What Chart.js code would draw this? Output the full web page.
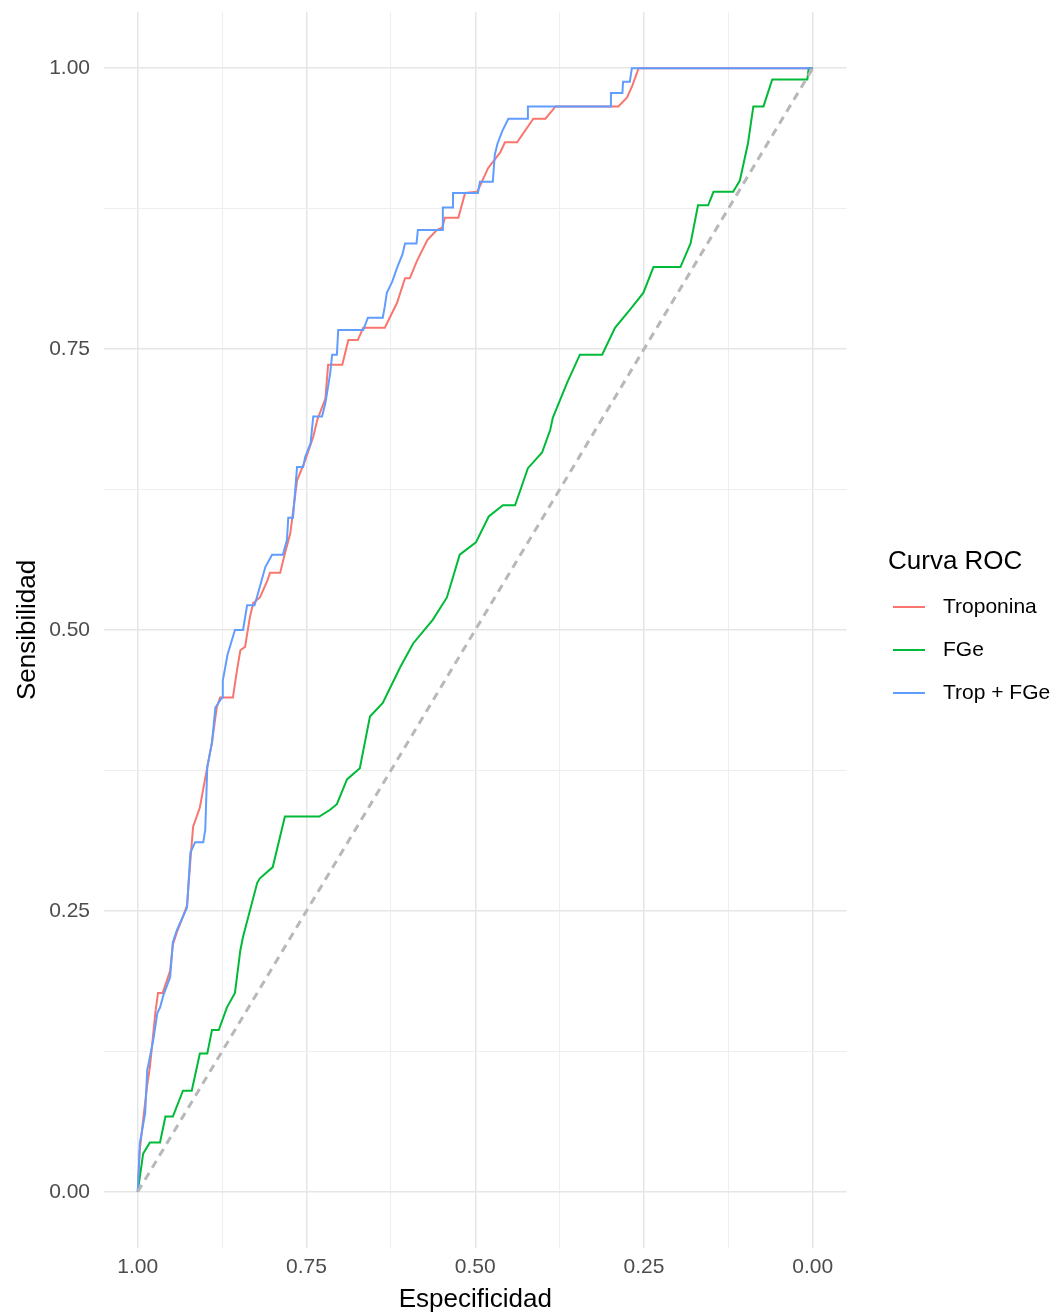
<!DOCTYPE html>
<html>
<head>
<meta charset="utf-8">
<title>Curva ROC</title>
<script src="https://cdn.jsdelivr.net/npm/chart.js@4.4.1/dist/chart.umd.min.js"></script>
<style>
  html, body { margin: 0; padding: 0; background: #ffffff; }
  #rocChart { display: block; }
</style>
</head>
<body>
<canvas id="rocChart" width="1059" height="1316"></canvas>
<script>
// ROC curves: specificity (x, reversed) vs sensitivity (y)
var tropSpec = [1,0.997,0.992,0.986,0.982,0.974,0.970,0.963,0.958,0.952,0.948,0.942,0.933,0.927,0.922,0.918,0.912,0.908,0.897,0.890,0.883,0.878,0.859,0.853,0.848,0.841,0.834,0.829,0.819,0.808,0.804,0.789,0.782,0.774,0.764,0.752,0.740,0.734,0.722,0.718,0.697,0.688,0.674,0.666,0.634,0.616,0.604,0.597,0.586,0.571,0.557,0.549,0.545,0.525,0.515,0.497,0.481,0.463,0.456,0.438,0.414,0.396,0.381,0.288,0.275,0.267,0.258,0];
var tropSens = [0,0.037,0.064,0.095,0.111,0.159,0.177,0.177,0.186,0.197,0.220,0.231,0.245,0.255,0.295,0.325,0.335,0.342,0.378,0.400,0.431,0.440,0.440,0.464,0.482,0.485,0.511,0.524,0.529,0.544,0.551,0.551,0.568,0.586,0.633,0.651,0.672,0.687,0.706,0.736,0.736,0.758,0.758,0.769,0.769,0.791,0.813,0.813,0.829,0.847,0.856,0.858,0.867,0.867,0.889,0.890,0.911,0.925,0.934,0.934,0.955,0.955,0.966,0.966,0.974,0.985,1,1];

var fgeSpec = [1,0.992,0.982,0.967,0.959,0.948,0.933,0.920,0.908,0.897,0.890,0.880,0.868,0.856,0.848,0.844,0.823,0.819,0.800,0.782,0.731,0.715,0.705,0.690,0.671,0.656,0.637,0.611,0.592,0.563,0.542,0.523,0.499,0.480,0.459,0.441,0.422,0.401,0.389,0.385,0.364,0.345,0.312,0.293,0.271,0.251,0.236,0.196,0.181,0.170,0.155,0.147,0.118,0.108,0.096,0.088,0.073,0.060,0.008,0.006,0];
var fgeSens = [0,0.034,0.044,0.044,0.067,0.067,0.090,0.090,0.123,0.123,0.144,0.144,0.164,0.177,0.215,0.227,0.275,0.279,0.289,0.334,0.334,0.340,0.345,0.367,0.377,0.423,0.435,0.467,0.488,0.509,0.529,0.567,0.578,0.601,0.611,0.611,0.644,0.658,0.678,0.689,0.720,0.745,0.745,0.769,0.785,0.800,0.823,0.823,0.844,0.878,0.878,0.890,0.890,0.900,0.933,0.966,0.966,0.990,0.990,1,1];

var combSpec = [1,0.997,0.989,0.986,0.977,0.971,0.967,0.962,0.952,0.948,0.942,0.933,0.927,0.922,0.915,0.903,0.900,0.897,0.890,0.885,0.875,0.874,0.867,0.856,0.844,0.838,0.827,0.824,0.811,0.801,0.785,0.779,0.777,0.770,0.764,0.755,0.752,0.744,0.740,0.727,0.722,0.715,0.712,0.705,0.703,0.666,0.659,0.637,0.634,0.631,0.623,0.616,0.608,0.604,0.587,0.585,0.549,0.548,0.534,0.533,0.496,0.493,0.474,0.471,0.467,0.460,0.451,0.423,0.422,0.300,0.299,0.282,0.281,0.271,0.268,0];
var combSens = [0,0.043,0.070,0.108,0.135,0.159,0.164,0.175,0.191,0.222,0.233,0.245,0.253,0.302,0.311,0.311,0.322,0.378,0.400,0.431,0.440,0.455,0.478,0.500,0.500,0.522,0.522,0.528,0.556,0.567,0.567,0.580,0.600,0.600,0.645,0.645,0.654,0.666,0.690,0.690,0.702,0.728,0.745,0.745,0.767,0.767,0.778,0.778,0.788,0.800,0.810,0.822,0.834,0.844,0.844,0.856,0.856,0.876,0.876,0.889,0.889,0.899,0.899,0.923,0.933,0.944,0.955,0.955,0.966,0.966,0.978,0.978,0.988,0.988,1,1];

var diagSpec = [1, 0];
var diagSens = [0, 1];

var majorTicks = [0, 0.25, 0.5, 0.75, 1];
var minorTicks = [0.125, 0.375, 0.625, 0.875];
var tickLabels = ["0.00", "0.25", "0.50", "0.75", "1.00"];

var seriesNames = ["Troponina", "FGe", "Trop + FGe"];
var seriesColors = ["#F8766D", "#00BA38", "#619CFF"];
var legendTitle = "Curva ROC";
var xTitle = "Especificidad";
var yTitle = "Sensibilidad";

var fontFamily = "'Liberation Sans', Arial, Helvetica, sans-serif";

function toPoints(xs, ys){
  var pts = [];
  for(var i = 0; i < xs.length; i++){
    pts.push({ x: xs[i], y: ys[i] });
  }
  return pts;
}

function buildTicks(scale){
  var all = majorTicks.concat(minorTicks).sort(function(a, b){ return a - b; });
  scale.ticks = all.map(function(v){ return { value: v }; });
}

function tickLabel(value){
  var i = majorTicks.indexOf(value);
  return i > -1 ? tickLabels[i] : "";
}

function isMajor(ctx){
  return ctx.tick && majorTicks.indexOf(ctx.tick.value) > -1;
}

var gridOpts = {
  color: function(ctx){ return isMajor(ctx) ? "#e6e6e6" : "#eeeeee"; },
  lineWidth: function(ctx){ return isMajor(ctx) ? 1.5 : 1; },
  drawTicks: false
};

// legend drawn beside the panel, ggplot style
var rocLegend = {
  id: "rocLegend",
  afterDraw: function(chart, args, opts){
    var ctx = chart.ctx;
    var area = chart.chartArea;
    var midY = (area.top + area.bottom) / 2;
    var x0 = area.right + opts.offsetX;
    ctx.save();
    ctx.fillStyle = "#000000";
    ctx.textAlign = "left";
    ctx.textBaseline = "middle";
    ctx.font = opts.titleSize + "px " + fontFamily;
    ctx.fillText(legendTitle, x0, midY + opts.titleY);
    ctx.font = opts.labelSize + "px " + fontFamily;
    var row = 0;
    chart.data.datasets.forEach(function(ds){
      if(seriesNames.indexOf(ds.label) == -1) return;
      var y = midY + opts.firstRowY + row * opts.rowGap;
      ctx.strokeStyle = ds.borderColor;
      ctx.lineWidth = ds.borderWidth;
      ctx.beginPath();
      ctx.moveTo(x0 + opts.keyX, y);
      ctx.lineTo(x0 + opts.keyX + opts.keyWidth, y);
      ctx.stroke();
      ctx.fillText(ds.label, x0 + opts.textX, y);
      row++;
    });
    ctx.restore();
  }
};

var lineStyle = { showLine: true, pointRadius: 0, borderWidth: 2, tension: 0, fill: false };

var datasets = [
  Object.assign({ label: seriesNames[0], data: toPoints(tropSpec, tropSens), borderColor: seriesColors[0], order: 3 }, lineStyle),
  Object.assign({ label: seriesNames[1], data: toPoints(fgeSpec, fgeSens), borderColor: seriesColors[1], order: 2 }, lineStyle),
  Object.assign({ label: seriesNames[2], data: toPoints(combSpec, combSens), borderColor: seriesColors[2], order: 1 }, lineStyle),
  {
    label: "diagonal",
    data: toPoints(diagSpec, diagSens),
    showLine: true,
    pointRadius: 0,
    borderColor: "#b8b8b8",
    borderWidth: 3,
    borderDash: [8, 6],
    order: 0
  }
];

var rocChart = new Chart(document.getElementById("rocChart"), {
  type: "scatter",
  data: { datasets: datasets },
  plugins: [rocLegend],
  options: {
    responsive: false,
    animation: false,
    devicePixelRatio: 1,
    events: [],
    layout: { padding: { left: 0, right: 212.5, top: 12, bottom: 0 } },
    plugins: {
      legend: { display: false },
      tooltip: { enabled: false },
      rocLegend: {
        offsetX: 41.5,
        titleY: -68,
        firstRowY: -23,
        rowGap: 43,
        keyX: 5,
        keyWidth: 32,
        textX: 55,
        titleSize: 26,
        labelSize: 21
      }
    },
    scales: {
      x: {
        type: "linear",
        reverse: true,
        min: -0.05,
        max: 1.05,
        afterBuildTicks: buildTicks,
        afterFit: function(scale){
          scale.height = 68;
          scale.paddingLeft = 0;
          scale.paddingRight = 0;
        },
        grid: gridOpts,
        border: { display: false },
        ticks: {
          callback: tickLabel,
          color: "#4d4d4d",
          font: { family: fontFamily, size: 21 },
          padding: 7,
          maxRotation: 0,
          autoSkip: false
        },
        title: {
          display: true,
          text: xTitle,
          color: "#000000",
          font: { family: fontFamily, size: 26 },
          padding: { top: 0, bottom: 1 }
        }
      },
      y: {
        type: "linear",
        min: -0.05,
        max: 1.05,
        afterBuildTicks: buildTicks,
        afterFit: function(scale){
          scale.width = 104;
          scale.paddingTop = 0;
          scale.paddingBottom = 0;
        },
        grid: gridOpts,
        border: { display: false },
        ticks: {
          callback: tickLabel,
          color: "#4d4d4d",
          font: { family: fontFamily, size: 21 },
          padding: 14,
          autoSkip: false
        },
        title: {
          display: true,
          text: yTitle,
          color: "#000000",
          font: { family: fontFamily, size: 26 },
          padding: { top: 12, bottom: 0 }
        }
      }
    }
  }
});
</script>
</body>
</html>
